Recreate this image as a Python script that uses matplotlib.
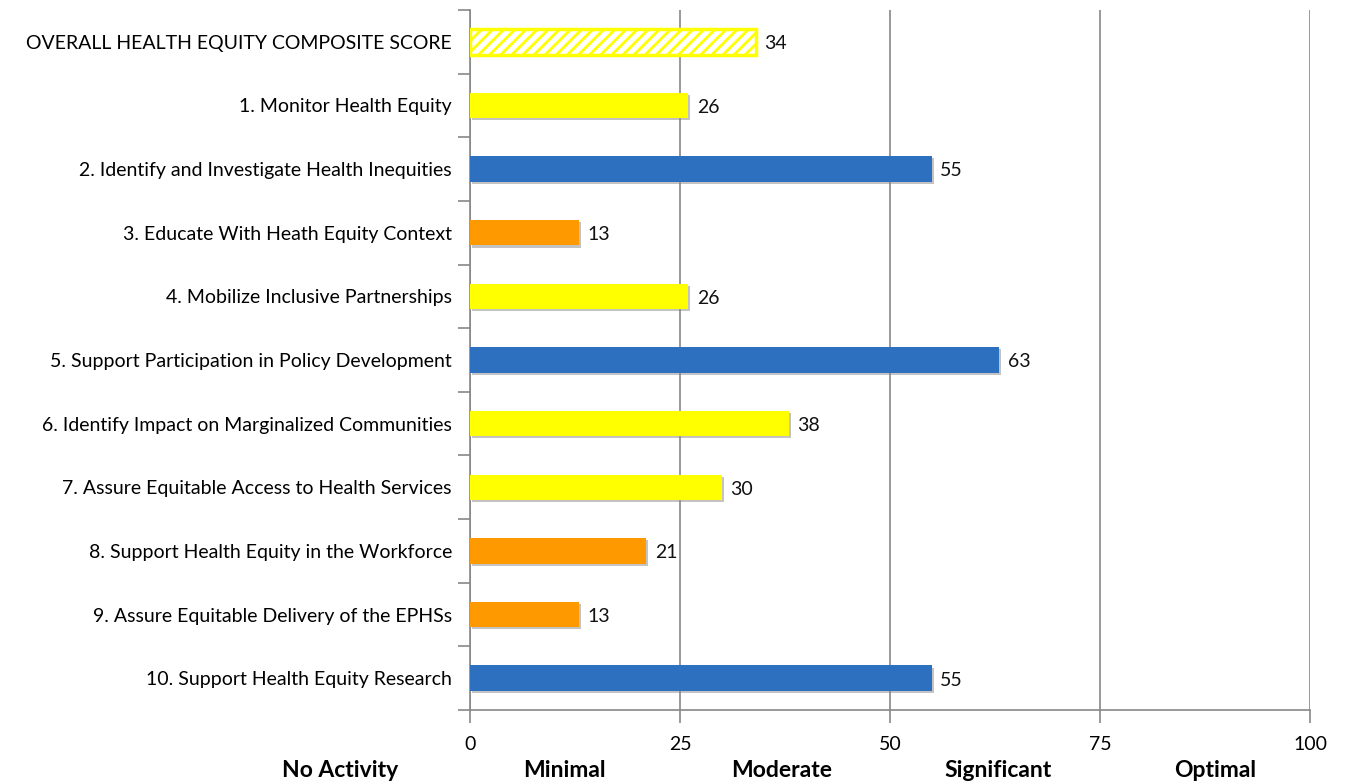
import matplotlib.pyplot as plt
import matplotlib.patheffects as pe

categories = [
    'OVERALL HEALTH EQUITY COMPOSITE SCORE',
    '1. Monitor Health Equity',
    '2. Identify and Investigate Health Inequities',
    '3. Educate With Heath Equity Context',
    '4. Mobilize Inclusive Partnerships',
    '5. Support Participation in Policy Development',
    '6. Identify Impact on Marginalized Communities',
    '7. Assure Equitable Access to Health Services',
    '8. Support Health Equity in the Workforce',
    '9. Assure Equitable Delivery of the EPHSs',
    '10. Support Health Equity Research',
]
scores = [34, 26, 55, 13, 26, 63, 38, 30, 21, 13, 55]
x_ticks = [0, 25, 50, 75, 100]
levels = ['No Activity', 'Minimal', 'Moderate', 'Significant', 'Optimal']
level_pos = [-15.5, 11.2, 37.1, 62.9, 88.7]

YELLOW = '#FFFF00'
ORANGE = '#FF9900'
BLUE = '#2E70C0'


def bar_color(v):
    if v < 25:
        return ORANGE
    if v < 50:
        return YELLOW
    return BLUE


plt.rcParams['font.family'] = ['Lato', 'DejaVu Sans']
plt.rcParams['hatch.linewidth'] = 2.0

fig = plt.figure(figsize=(13.46, 7.84), dpi=100)
ax = fig.add_axes([470 / 1346, 74 / 784, 840 / 1346, 700 / 784])

shadow = [pe.SimplePatchShadow(offset=(1.5, -1.5), shadow_rgbFace='#888888', alpha=0.5), pe.Normal()]
ypos = list(range(len(categories)))
for i, (y, v) in enumerate(zip(ypos, scores)):
    if i == 0:
        b = ax.barh(y, v, height=0.4, color='white', edgecolor=YELLOW, hatch='///', linewidth=2.5, zorder=3)
    else:
        b = ax.barh(y, v, height=0.4, color=bar_color(v), zorder=3)
    for p in b:
        p.set_path_effects(shadow)
    ax.text(v + 1, y + 0.03, str(v), va='center', ha='left', fontsize=14, color='#111111', zorder=4)

ax.set_xlim(0, 100)
ax.set_ylim(len(categories) - 0.5, -0.5)
ax.set_xticks(x_ticks)
ax.set_xticklabels([str(t) for t in x_ticks], fontsize=14)
ax.set_yticks(ypos)
ax.set_yticklabels(categories, fontsize=14)
ax.set_yticks([i - 0.5 for i in range(len(categories) + 1)], minor=True)
ax.tick_params(axis='y', which='major', length=0, pad=13)
ax.tick_params(axis='y', which='minor', length=9, color='#888888', width=1.2)
ax.tick_params(axis='x', length=9, color='#888888', width=1.2, pad=10)

ax.xaxis.grid(True, color='#888888', linewidth=1.2, zorder=0)
ax.set_axisbelow(True)
for s in ['top', 'right']:
    ax.spines[s].set_visible(False)
for s in ['left', 'bottom']:
    ax.spines[s].set_color('#888888')
    ax.spines[s].set_linewidth(1.2)

for lab, xp in zip(levels, level_pos):
    ax.text(xp, -0.086, lab, transform=ax.get_xaxis_transform(), ha='center', va='center',
            fontsize=16.5, fontweight='bold', color='black')

fig.savefig('out.png', dpi=100)
